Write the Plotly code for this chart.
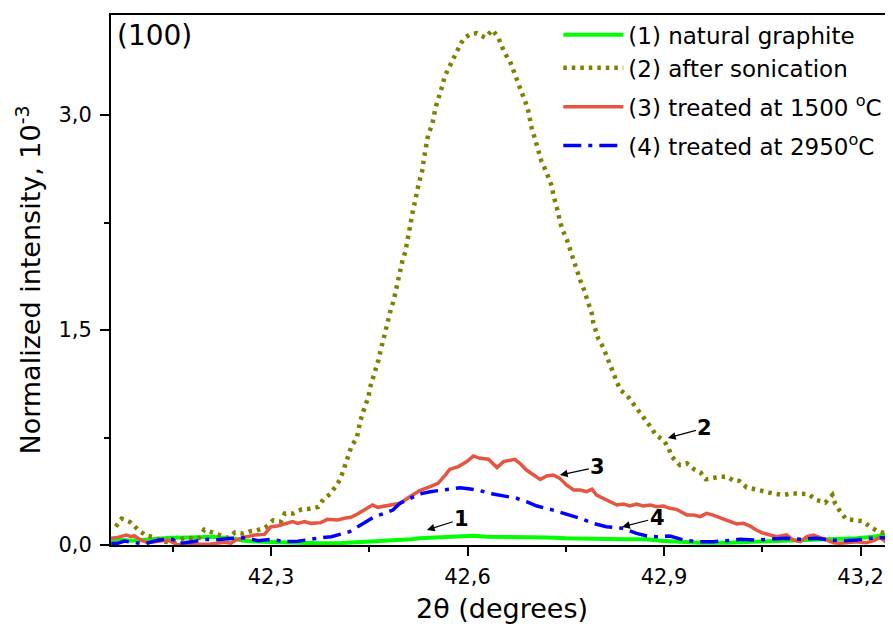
import plotly.graph_objects as go

# ---- data ----
x1 = [42.056, 42.086, 42.117, 42.147, 42.178, 42.208, 42.239, 42.259, 42.285, 42.310, 42.341, 42.371,
      42.402, 42.422, 42.453, 42.483, 42.514, 42.527, 42.558, 42.589, 42.609, 42.629, 42.660, 42.690,
      42.721, 42.751, 42.782, 42.813, 42.843, 42.874, 42.894, 42.909, 42.924, 42.955, 42.996, 43.036,
      43.077, 43.118, 43.159, 43.194, 43.220, 43.240, 43.250]
y1 = [0.040, 0.030, 0.040, 0.051, 0.053, 0.058, 0.047, 0.030, 0.023, 0.019, 0.016, 0.012,
      0.012, 0.016, 0.023, 0.030, 0.040, 0.047, 0.053, 0.063, 0.065, 0.058, 0.058, 0.053,
      0.053, 0.047, 0.047, 0.042, 0.040, 0.040, 0.030, 0.023, 0.023, 0.016, 0.016, 0.023,
      0.030, 0.035, 0.040, 0.047, 0.058, 0.074, 0.081]

x2 = [42.063, 42.072, 42.085, 42.098, 42.110, 42.123, 42.135, 42.150, 42.168, 42.179, 42.190, 42.198,
      42.210, 42.222, 42.235, 42.245, 42.258, 42.268, 42.278, 42.291, 42.303, 42.315, 42.321, 42.334,
      42.347, 42.359, 42.372, 42.380, 42.391, 42.398, 42.405, 42.410, 42.414, 42.419, 42.423, 42.431,
      42.433, 42.436, 42.440, 42.445, 42.449, 42.451, 42.455, 42.460, 42.464, 42.467, 42.470, 42.473,
      42.477, 42.480, 42.483, 42.487, 42.492, 42.495, 42.498, 42.501, 42.505, 42.507, 42.510, 42.512,
      42.515, 42.517, 42.520, 42.522, 42.525, 42.529, 42.532, 42.533, 42.536, 42.538, 42.540, 42.546,
      42.548, 42.551, 42.554, 42.558, 42.562, 42.565, 42.571, 42.577, 42.584, 42.590, 42.596, 42.604,
      42.614, 42.627, 42.638, 42.647, 42.652, 42.657, 42.665, 42.670, 42.675, 42.680, 42.684, 42.689,
      42.693, 42.695, 42.698, 42.702, 42.706, 42.708, 42.713, 42.719, 42.724, 42.729, 42.731, 42.735,
      42.738, 42.741, 42.745, 42.751, 42.755, 42.760, 42.764, 42.768, 42.772, 42.777, 42.782, 42.786,
      42.790, 42.792, 42.796, 42.800, 42.807, 42.812, 42.818, 42.823, 42.827, 42.833, 42.843, 42.852,
      42.863, 42.873, 42.880, 42.888, 42.900, 42.907, 42.912, 42.924, 42.935, 42.946, 42.956, 42.964,
      42.973, 42.985, 42.997, 43.006, 43.015, 43.026, 43.040, 43.052, 43.061, 43.071, 43.083, 43.095,
      43.108, 43.120, 43.133, 43.146, 43.157, 43.161, 43.169, 43.178, 43.189, 43.202, 43.215, 43.227,
      43.240]
y2 = [0.128, 0.184, 0.160, 0.102, 0.065, 0.053, 0.023, 0.020, 0.049, 0.051, 0.049, 0.107,
      0.086, 0.067, 0.049, 0.088, 0.079, 0.095, 0.102, 0.121, 0.172, 0.163, 0.219, 0.219,
      0.249, 0.253, 0.265, 0.319, 0.358, 0.405, 0.454, 0.514, 0.570, 0.626, 0.691, 0.747,
      0.802, 0.860, 0.921, 0.979, 1.037, 1.096, 1.151, 1.230, 1.290, 1.350, 1.410, 1.470,
      1.530, 1.585, 1.645, 1.700, 1.810, 1.865, 1.925, 1.990, 2.045, 2.100, 2.160, 2.220,
      2.280, 2.340, 2.400, 2.460, 2.510, 2.580, 2.630, 2.685, 2.750, 2.800, 2.866, 2.931,
      2.989, 3.047, 3.094, 3.147, 3.210, 3.268, 3.326, 3.384, 3.443, 3.501, 3.540, 3.564,
      3.571, 3.540, 3.594, 3.540, 3.484, 3.431, 3.373, 3.315, 3.257, 3.198, 3.140, 3.082,
      3.024, 2.966, 2.908, 2.849, 2.791, 2.745, 2.675, 2.617, 2.559, 2.501, 2.442, 2.384,
      2.326, 2.260, 2.198, 2.140, 2.082, 2.024, 1.966, 1.907, 1.849, 1.791, 1.728, 1.668,
      1.612, 1.551, 1.496, 1.435, 1.380, 1.319, 1.261, 1.198, 1.140, 1.082, 1.047, 0.993,
      0.935, 0.872, 0.821, 0.765, 0.728, 0.675, 0.616, 0.558, 0.570, 0.528, 0.505, 0.458,
      0.465, 0.477, 0.477, 0.449, 0.447, 0.402, 0.388, 0.372, 0.365, 0.356, 0.349, 0.360,
      0.360, 0.356, 0.314, 0.295, 0.349, 0.291, 0.233, 0.181, 0.174, 0.167, 0.128, 0.093,
      0.081]

x3 = [42.056, 42.066, 42.079, 42.086, 42.091, 42.101, 42.112, 42.124, 42.142, 42.150, 42.157, 42.173,
      42.188, 42.208, 42.229, 42.239, 42.246, 42.259, 42.275, 42.290, 42.300, 42.310, 42.320, 42.333,
      42.341, 42.351, 42.361, 42.376, 42.386, 42.402, 42.412, 42.422, 42.432, 42.442, 42.455, 42.463,
      42.482, 42.497, 42.512, 42.527, 42.543, 42.555, 42.566, 42.573, 42.586, 42.599, 42.609, 42.619,
      42.632, 42.645, 42.655, 42.665, 42.672, 42.680, 42.690, 42.701, 42.711, 42.721, 42.731, 42.741,
      42.751, 42.762, 42.772, 42.782, 42.790, 42.797, 42.807, 42.818, 42.828, 42.838, 42.848, 42.858,
      42.868, 42.879, 42.889, 42.899, 42.909, 42.919, 42.935, 42.945, 42.955, 42.965, 42.975, 42.988,
      43.001, 43.011, 43.021, 43.031, 43.041, 43.049, 43.062, 43.072, 43.087, 43.097, 43.108, 43.118,
      43.128, 43.138, 43.148, 43.159, 43.169, 43.179, 43.194, 43.209, 43.220, 43.230, 43.240, 43.250]
y3 = [0.047, 0.053, 0.070, 0.058, 0.065, 0.035, 0.016, 0.023, 0.035, 0.019, 0.000, 0.012,
      0.005, 0.007, 0.019, 0.012, 0.035, 0.053, 0.070, 0.074, 0.128, 0.133, 0.147, 0.163,
      0.151, 0.163, 0.151, 0.156, 0.179, 0.174, 0.186, 0.193, 0.216, 0.244, 0.279, 0.263,
      0.279, 0.291, 0.337, 0.379, 0.407, 0.430, 0.488, 0.528, 0.547, 0.582, 0.621, 0.605,
      0.598, 0.540, 0.582, 0.593, 0.598, 0.570, 0.523, 0.488, 0.458, 0.482, 0.488, 0.465,
      0.419, 0.384, 0.384, 0.372, 0.389, 0.349, 0.326, 0.302, 0.279, 0.286, 0.272, 0.286,
      0.272, 0.279, 0.267, 0.272, 0.256, 0.249, 0.209, 0.209, 0.198, 0.221, 0.209, 0.186,
      0.163, 0.147, 0.151, 0.133, 0.105, 0.086, 0.070, 0.058, 0.070, 0.035, 0.023, 0.058,
      0.070, 0.053, 0.030, 0.016, 0.012, 0.016, 0.023, 0.016, 0.030, 0.053, 0.016, 0.058]

x4 = [42.056, 42.066, 42.076, 42.086, 42.096, 42.107, 42.122, 42.137, 42.150, 42.157, 42.168, 42.188,
      42.203, 42.213, 42.236, 42.254, 42.264, 42.280, 42.300, 42.320, 42.341, 42.351, 42.371, 42.392,
      42.407, 42.420, 42.437, 42.458, 42.473, 42.486, 42.497, 42.512, 42.527, 42.543, 42.555, 42.571,
      42.589, 42.604, 42.619, 42.639, 42.660, 42.675, 42.690, 42.706, 42.726, 42.746, 42.772, 42.792,
      42.812, 42.838, 42.858, 42.874, 42.889, 42.909, 42.930, 42.950, 42.975, 42.996, 43.016, 43.041,
      43.067, 43.087, 43.108, 43.133, 43.153, 43.174, 43.194, 43.214, 43.235, 43.250]
y4 = [0.012, 0.012, 0.028, 0.023, 0.012, 0.007, 0.028, 0.040, 0.040, 0.012, 0.016, 0.030,
      0.040, 0.035, 0.047, 0.051, 0.047, 0.030, 0.040, 0.023, 0.026, 0.035, 0.047, 0.058,
      0.077, 0.093, 0.140, 0.198, 0.221, 0.244, 0.291, 0.326, 0.356, 0.372, 0.379, 0.389,
      0.400, 0.391, 0.379, 0.356, 0.337, 0.326, 0.302, 0.272, 0.249, 0.221, 0.186, 0.151,
      0.128, 0.116, 0.081, 0.063, 0.058, 0.063, 0.035, 0.023, 0.023, 0.030, 0.040, 0.035,
      0.040, 0.047, 0.040, 0.047, 0.035, 0.030, 0.035, 0.047, 0.051, 0.058]

names = ["(1) natural graphite", "(2) after sonication",
         "(3) treated at 1500 <sup>o</sup>C", "(4) treated at 2950<sup>o</sup>C"]
curve_labels = ["1", "2", "3", "4"]
# arrow tip (data coords) for each curve label
label_tip_x = [42.538, 42.906, 42.741, 42.836]
label_tip_y = [0.105, 0.747, 0.488, 0.126]

FONT = "DejaVu Sans"

fig = go.Figure()
fig.add_trace(go.Scatter(x=x1, y=y1, name=names[0], mode="lines", legendgroup="a",
                         line=dict(color="#00FF00", width=4)))
fig.add_trace(go.Scatter(x=x2, y=y2, name=names[1], mode="lines", legendgroup="a",
                         line=dict(color="#808000", width=4.5, dash="3.5px,5px")))
fig.add_trace(go.Scatter(x=x3, y=y3, name=names[2], mode="lines", legendgroup="c",
                         line=dict(color="#E5553F", width=3.5)))
fig.add_trace(go.Scatter(x=x4, y=y4, name=names[3], mode="lines", legendgroup="d",
                         line=dict(color="#0000FF", width=3.5, dash="18px,7px,4px,7px")))

offsets = [(35, -11), (37, -10), (38, -8), (35, -9)]
for lab, tx, ty, (ox, oy) in zip(curve_labels, label_tip_x, label_tip_y, offsets):
    fig.add_annotation(x=tx, y=ty, text="<b>%s</b>" % lab, showarrow=True, ax=ox, ay=oy,
                       arrowhead=2, arrowsize=1.3, arrowwidth=1.2, arrowcolor="black",
                       font=dict(family=FONT, size=21, color="black"))

fig.add_annotation(x=0.0, y=1.0, xref="paper", yref="paper", xanchor="left", yanchor="top",
                   xshift=4, yshift=-2, text="(100)", showarrow=False,
                   font=dict(family=FONT, size=28, color="black"))

# page body has an 8px margin: figure is sized so the plot lands where the reference has it
fig.update_layout(
    width=885, height=616,
    margin=dict(l=103, r=0, t=7, b=79),
    plot_bgcolor="white", paper_bgcolor="white",
    separators=",.",
    font=dict(family=FONT, color="black"),
    legend=dict(x=0.572, y=1.003, xanchor="left", yanchor="top", bgcolor="rgba(0,0,0,0)",
                font=dict(family=FONT, size=23, color="black"), itemwidth=60,
                tracegroupgap=6, traceorder="grouped"),
    xaxis=dict(range=[42.0557, 43.2496], tick0=42.3, dtick=0.3, tickformat=".1f",
               showline=True, linecolor="black", linewidth=2, mirror=True,
               ticks="outside", ticklen=9, tickwidth=2, tickcolor="black",
               minor=dict(dtick=0.15, tick0=42.15, ticks="outside", ticklen=5, tickwidth=2, tickcolor="black"),
               showgrid=False, zeroline=False, ticklabelstandoff=3,
               tickfont=dict(family=FONT, size=21, color="black"),
               title=dict(text="2\u03b8 (degrees)", font=dict(family=FONT, size=27, color="black"), standoff=14)),
    yaxis=dict(range=[0, 3.698], tick0=0, dtick=1.5, tickformat=".1f",
               showline=True, linecolor="black", linewidth=2, mirror=False,
               ticks="outside", ticklen=9, tickwidth=2, tickcolor="black",
               minor=dict(dtick=0.75, ticks="outside", ticklen=5, tickwidth=2, tickcolor="black"),
               showgrid=False, zeroline=False, ticklabelstandoff=4,
               tickfont=dict(family=FONT, size=21, color="black"),
               title=dict(text="Normalized intensity, 10<sup>-3</sup>", font=dict(family=FONT, size=27, color="black"), standoff=10)),
)

fig.write_html("out.html")
